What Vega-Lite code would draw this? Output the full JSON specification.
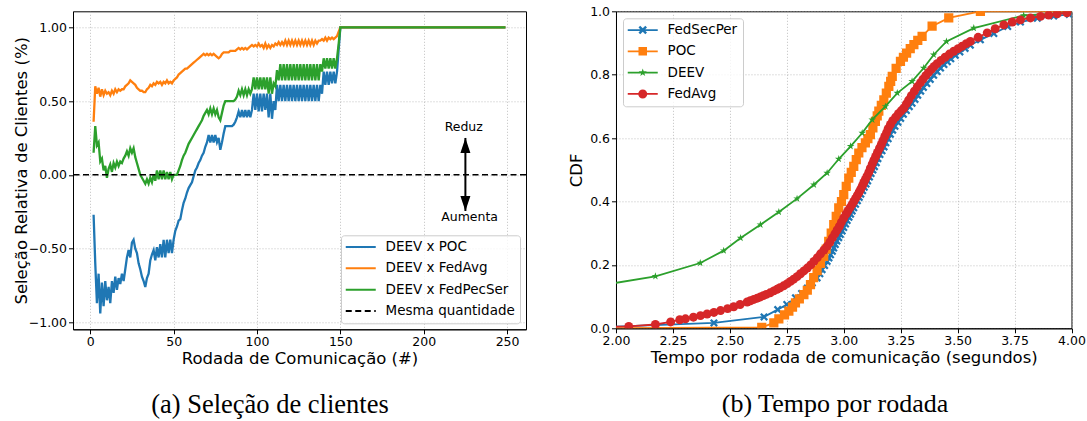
{
"$schema": "https://vega.github.io/schema/vega-lite/v6.json",
"background": "white",
"padding": {"left": 12, "top": 4.3, "right": 1, "bottom": 2},
"config": {
  "font": "DejaVu Sans",
  "view": {"stroke": "black", "strokeWidth": 1},
  "axis": {"labelFont": "DejaVu Sans", "labelFontSize": 12.5, "labelColor": "black", "titleFont": "DejaVu Sans", "titleFontSize": 16.5, "titleFontWeight": "normal", "titleColor": "black", "tickColor": "black", "tickSize": 4.5, "domainColor": "black", "gridColor": "#b0b0b0", "gridDash": [1, 2], "gridWidth": 0.8, "labelPadding": 2, "labelFlush": false, "labelOverlap": false},
  "axisX": {"titlePadding": 2.5},
  "concat": {"spacing": 40}
},
"datasets": {
  "sel": [
{"r":2,"POC":-0.27,"FedAvg":0.36,"FedPecSer":0.15},
{"r":3,"POC":-0.60,"FedAvg":0.60,"FedPecSer":0.33},
{"r":4,"POC":-0.87,"FedAvg":0.55,"FedPecSer":0.20},
{"r":5,"POC":-0.67,"FedAvg":0.59,"FedPecSer":0.22},
{"r":6,"POC":-0.94,"FedAvg":0.53,"FedPecSer":0.09},
{"r":7,"POC":-0.73,"FedAvg":0.58,"FedPecSer":0.11},
{"r":8,"POC":-0.89,"FedAvg":0.54,"FedPecSer":0.03},
{"r":9,"POC":-0.72,"FedAvg":0.57,"FedPecSer":0.06},
{"r":10,"POC":-0.85,"FedAvg":0.55,"FedPecSer":-0.02},
{"r":11,"POC":-0.76,"FedAvg":0.56,"FedPecSer":0.04},
{"r":12,"POC":-0.87,"FedAvg":0.54,"FedPecSer":0.07},
{"r":13,"POC":-0.72,"FedAvg":0.57,"FedPecSer":0.02},
{"r":14,"POC":-0.80,"FedAvg":0.55,"FedPecSer":0.08},
{"r":15,"POC":-0.69,"FedAvg":0.58,"FedPecSer":0.05},
{"r":16,"POC":-0.78,"FedAvg":0.56,"FedPecSer":0.09},
{"r":17,"POC":-0.70,"FedAvg":0.58,"FedPecSer":0.06},
{"r":18,"POC":-0.74,"FedAvg":0.57,"FedPecSer":0.09},
{"r":19,"POC":-0.67,"FedAvg":0.58,"FedPecSer":0.08},
{"r":20,"POC":-0.72,"FedAvg":0.58,"FedPecSer":0.11},
{"r":21,"POC":-0.64,"FedAvg":0.60,"FedPecSer":0.13},
{"r":22,"POC":-0.56,"FedAvg":0.61,"FedPecSer":0.16},
{"r":23,"POC":-0.51,"FedAvg":0.62,"FedPecSer":0.13},
{"r":24,"POC":-0.56,"FedAvg":0.64,"FedPecSer":0.18},
{"r":25,"POC":-0.46,"FedAvg":0.63,"FedPecSer":0.15},
{"r":26,"POC":-0.44,"FedAvg":0.62,"FedPecSer":0.18},
{"r":27,"POC":-0.50,"FedAvg":0.61,"FedPecSer":0.12},
{"r":28,"POC":-0.53,"FedAvg":0.59,"FedPecSer":0.08},
{"r":29,"POC":-0.60,"FedAvg":0.58,"FedPecSer":0.04},
{"r":30,"POC":-0.64,"FedAvg":0.57,"FedPecSer":0.00},
{"r":31,"POC":-0.69,"FedAvg":0.57,"FedPecSer":-0.02},
{"r":32,"POC":-0.72,"FedAvg":0.56,"FedPecSer":-0.04},
{"r":33,"POC":-0.76,"FedAvg":0.56,"FedPecSer":-0.06},
{"r":34,"POC":-0.70,"FedAvg":0.58,"FedPecSer":-0.03},
{"r":35,"POC":-0.67,"FedAvg":0.59,"FedPecSer":-0.06},
{"r":36,"POC":-0.58,"FedAvg":0.61,"FedPecSer":-0.02},
{"r":37,"POC":-0.54,"FedAvg":0.60,"FedPecSer":-0.05},
{"r":38,"POC":-0.51,"FedAvg":0.62,"FedPecSer":0.00},
{"r":39,"POC":-0.58,"FedAvg":0.61,"FedPecSer":-0.04},
{"r":40,"POC":-0.49,"FedAvg":0.63,"FedPecSer":0.03},
{"r":41,"POC":-0.56,"FedAvg":0.62,"FedPecSer":-0.03},
{"r":42,"POC":-0.47,"FedAvg":0.63,"FedPecSer":0.03},
{"r":43,"POC":-0.56,"FedAvg":0.61,"FedPecSer":-0.03},
{"r":44,"POC":-0.44,"FedAvg":0.63,"FedPecSer":0.03},
{"r":45,"POC":-0.56,"FedAvg":0.62,"FedPecSer":-0.03},
{"r":46,"POC":-0.44,"FedAvg":0.64,"FedPecSer":0.02},
{"r":47,"POC":-0.53,"FedAvg":0.62,"FedPecSer":-0.03},
{"r":48,"POC":-0.44,"FedAvg":0.63,"FedPecSer":0.02},
{"r":49,"POC":-0.53,"FedAvg":0.62,"FedPecSer":-0.03},
{"r":50,"POC":-0.44,"FedAvg":0.64,"FedPecSer":0.00},
{"r":51,"POC":-0.38,"FedAvg":0.65,"FedPecSer":0.00},
{"r":52,"POC":-0.35,"FedAvg":0.66,"FedPecSer":0.00},
{"r":53,"POC":-0.31,"FedAvg":0.68,"FedPecSer":0.03},
{"r":54,"POC":-0.30,"FedAvg":0.69,"FedPecSer":0.06},
{"r":55,"POC":-0.24,"FedAvg":0.70,"FedPecSer":0.10},
{"r":56,"POC":-0.19,"FedAvg":0.71,"FedPecSer":0.13},
{"r":57,"POC":-0.16,"FedAvg":0.72,"FedPecSer":0.15},
{"r":58,"POC":-0.12,"FedAvg":0.72,"FedPecSer":0.18},
{"r":59,"POC":-0.09,"FedAvg":0.73,"FedPecSer":0.21},
{"r":60,"POC":-0.07,"FedAvg":0.74,"FedPecSer":0.23},
{"r":61,"POC":-0.05,"FedAvg":0.75,"FedPecSer":0.25},
{"r":62,"POC":-0.01,"FedAvg":0.76,"FedPecSer":0.27},
{"r":63,"POC":0.03,"FedAvg":0.77,"FedPecSer":0.29},
{"r":64,"POC":0.05,"FedAvg":0.78,"FedPecSer":0.31},
{"r":65,"POC":0.08,"FedAvg":0.79,"FedPecSer":0.33},
{"r":66,"POC":0.10,"FedAvg":0.80,"FedPecSer":0.35},
{"r":67,"POC":0.13,"FedAvg":0.81,"FedPecSer":0.37},
{"r":68,"POC":0.15,"FedAvg":0.82,"FedPecSer":0.40},
{"r":69,"POC":0.19,"FedAvg":0.81,"FedPecSer":0.42},
{"r":70,"POC":0.22,"FedAvg":0.82,"FedPecSer":0.44},
{"r":71,"POC":0.27,"FedAvg":0.81,"FedPecSer":0.41},
{"r":72,"POC":0.22,"FedAvg":0.82,"FedPecSer":0.45},
{"r":73,"POC":0.27,"FedAvg":0.81,"FedPecSer":0.41},
{"r":74,"POC":0.22,"FedAvg":0.82,"FedPecSer":0.45},
{"r":75,"POC":0.27,"FedAvg":0.81,"FedPecSer":0.41},
{"r":76,"POC":0.22,"FedAvg":0.80,"FedPecSer":0.44},
{"r":77,"POC":0.25,"FedAvg":0.79,"FedPecSer":0.39},
{"r":78,"POC":0.17,"FedAvg":0.80,"FedPecSer":0.37},
{"r":79,"POC":0.22,"FedAvg":0.82,"FedPecSer":0.42},
{"r":80,"POC":0.28,"FedAvg":0.83,"FedPecSer":0.47},
{"r":81,"POC":0.33,"FedAvg":0.83,"FedPecSer":0.50},
{"r":82,"POC":0.33,"FedAvg":0.83,"FedPecSer":0.50},
{"r":83,"POC":0.33,"FedAvg":0.83,"FedPecSer":0.50},
{"r":84,"POC":0.33,"FedAvg":0.84,"FedPecSer":0.50},
{"r":85,"POC":0.33,"FedAvg":0.84,"FedPecSer":0.50},
{"r":86,"POC":0.34,"FedAvg":0.84,"FedPecSer":0.50},
{"r":87,"POC":0.36,"FedAvg":0.84,"FedPecSer":0.51},
{"r":88,"POC":0.39,"FedAvg":0.85,"FedPecSer":0.53},
{"r":89,"POC":0.43,"FedAvg":0.86,"FedPecSer":0.57},
{"r":90,"POC":0.39,"FedAvg":0.85,"FedPecSer":0.54},
{"r":91,"POC":0.44,"FedAvg":0.86,"FedPecSer":0.58},
{"r":92,"POC":0.39,"FedAvg":0.85,"FedPecSer":0.54},
{"r":93,"POC":0.44,"FedAvg":0.86,"FedPecSer":0.58},
{"r":94,"POC":0.39,"FedAvg":0.85,"FedPecSer":0.54},
{"r":95,"POC":0.44,"FedAvg":0.86,"FedPecSer":0.58},
{"r":96,"POC":0.39,"FedAvg":0.87,"FedPecSer":0.55},
{"r":97,"POC":0.44,"FedAvg":0.88,"FedPecSer":0.58},
{"r":98,"POC":0.55,"FedAvg":0.87,"FedPecSer":0.66},
{"r":99,"POC":0.44,"FedAvg":0.88,"FedPecSer":0.58},
{"r":100,"POC":0.55,"FedAvg":0.87,"FedPecSer":0.66},
{"r":101,"POC":0.43,"FedAvg":0.89,"FedPecSer":0.58},
{"r":102,"POC":0.55,"FedAvg":0.87,"FedPecSer":0.66},
{"r":103,"POC":0.43,"FedAvg":0.88,"FedPecSer":0.58},
{"r":104,"POC":0.55,"FedAvg":0.86,"FedPecSer":0.66},
{"r":105,"POC":0.44,"FedAvg":0.89,"FedPecSer":0.58},
{"r":106,"POC":0.55,"FedAvg":0.86,"FedPecSer":0.66},
{"r":107,"POC":0.39,"FedAvg":0.88,"FedPecSer":0.55},
{"r":108,"POC":0.55,"FedAvg":0.86,"FedPecSer":0.66},
{"r":109,"POC":0.38,"FedAvg":0.88,"FedPecSer":0.55},
{"r":110,"POC":0.50,"FedAvg":0.87,"FedPecSer":0.62},
{"r":111,"POC":0.44,"FedAvg":0.89,"FedPecSer":0.60},
{"r":112,"POC":0.61,"FedAvg":0.88,"FedPecSer":0.71},
{"r":113,"POC":0.50,"FedAvg":0.90,"FedPecSer":0.64},
{"r":114,"POC":0.61,"FedAvg":0.88,"FedPecSer":0.75},
{"r":115,"POC":0.50,"FedAvg":0.90,"FedPecSer":0.64},
{"r":116,"POC":0.61,"FedAvg":0.88,"FedPecSer":0.75},
{"r":117,"POC":0.50,"FedAvg":0.91,"FedPecSer":0.64},
{"r":118,"POC":0.61,"FedAvg":0.88,"FedPecSer":0.75},
{"r":119,"POC":0.50,"FedAvg":0.91,"FedPecSer":0.64},
{"r":120,"POC":0.61,"FedAvg":0.88,"FedPecSer":0.75},
{"r":121,"POC":0.50,"FedAvg":0.91,"FedPecSer":0.64},
{"r":122,"POC":0.61,"FedAvg":0.88,"FedPecSer":0.75},
{"r":123,"POC":0.50,"FedAvg":0.91,"FedPecSer":0.64},
{"r":124,"POC":0.61,"FedAvg":0.88,"FedPecSer":0.75},
{"r":125,"POC":0.50,"FedAvg":0.91,"FedPecSer":0.64},
{"r":126,"POC":0.61,"FedAvg":0.88,"FedPecSer":0.75},
{"r":127,"POC":0.50,"FedAvg":0.91,"FedPecSer":0.64},
{"r":128,"POC":0.61,"FedAvg":0.88,"FedPecSer":0.75},
{"r":129,"POC":0.50,"FedAvg":0.91,"FedPecSer":0.64},
{"r":130,"POC":0.61,"FedAvg":0.88,"FedPecSer":0.75},
{"r":131,"POC":0.50,"FedAvg":0.91,"FedPecSer":0.64},
{"r":132,"POC":0.61,"FedAvg":0.88,"FedPecSer":0.75},
{"r":133,"POC":0.50,"FedAvg":0.91,"FedPecSer":0.64},
{"r":134,"POC":0.61,"FedAvg":0.88,"FedPecSer":0.75},
{"r":135,"POC":0.50,"FedAvg":0.91,"FedPecSer":0.64},
{"r":136,"POC":0.61,"FedAvg":0.89,"FedPecSer":0.75},
{"r":137,"POC":0.50,"FedAvg":0.91,"FedPecSer":0.64},
{"r":138,"POC":0.61,"FedAvg":0.91,"FedPecSer":0.75},
{"r":139,"POC":0.55,"FedAvg":0.92,"FedPecSer":0.70},
{"r":140,"POC":0.70,"FedAvg":0.91,"FedPecSer":0.79},
{"r":141,"POC":0.61,"FedAvg":0.93,"FedPecSer":0.72},
{"r":142,"POC":0.70,"FedAvg":0.91,"FedPecSer":0.79},
{"r":143,"POC":0.61,"FedAvg":0.93,"FedPecSer":0.72},
{"r":144,"POC":0.70,"FedAvg":0.92,"FedPecSer":0.79},
{"r":145,"POC":0.62,"FedAvg":0.93,"FedPecSer":0.72},
{"r":146,"POC":0.70,"FedAvg":0.92,"FedPecSer":0.79},
{"r":147,"POC":0.62,"FedAvg":0.93,"FedPecSer":0.72},
{"r":148,"POC":0.70,"FedAvg":0.94,"FedPecSer":0.79},
{"r":149,"POC":0.85,"FedAvg":0.97,"FedPecSer":0.89},
{"r":150,"POC":1.0,"FedAvg":1.0,"FedPecSer":1.0},
{"r":249,"POC":1.0,"FedAvg":1.0,"FedPecSer":1.0}
  ],
  "cdf": [
{"s":"FedSecPer","t":1.88,"p":0.002},{"s":"FedSecPer","t":2.43,"p":0.017},{"s":"FedSecPer","t":2.65,"p":0.036},{"s":"FedSecPer","t":2.71,"p":0.059},{"s":"FedSecPer","t":2.75,"p":0.075},{"s":"FedSecPer","t":2.788,"p":0.096},{"s":"FedSecPer","t":2.815,"p":0.11},{"s":"FedSecPer","t":2.84,"p":0.127},{"s":"FedSecPer","t":2.862,"p":0.143},{"s":"FedSecPer","t":2.883,"p":0.159},{"s":"FedSecPer","t":2.895,"p":0.172},{"s":"FedSecPer","t":2.905,"p":0.185},{"s":"FedSecPer","t":2.916,"p":0.198},{"s":"FedSecPer","t":2.927,"p":0.211},{"s":"FedSecPer","t":2.935,"p":0.222},{"s":"FedSecPer","t":2.942,"p":0.232},{"s":"FedSecPer","t":2.95,"p":0.243},{"s":"FedSecPer","t":2.956,"p":0.253},{"s":"FedSecPer","t":2.963,"p":0.264},{"s":"FedSecPer","t":2.97,"p":0.275},{"s":"FedSecPer","t":2.978,"p":0.286},{"s":"FedSecPer","t":2.985,"p":0.296},{"s":"FedSecPer","t":2.993,"p":0.307},{"s":"FedSecPer","t":3.0,"p":0.318},{"s":"FedSecPer","t":3.008,"p":0.329},{"s":"FedSecPer","t":3.015,"p":0.34},{"s":"FedSecPer","t":3.023,"p":0.35},{"s":"FedSecPer","t":3.03,"p":0.36},{"s":"FedSecPer","t":3.037,"p":0.37},{"s":"FedSecPer","t":3.044,"p":0.38},{"s":"FedSecPer","t":3.052,"p":0.391},{"s":"FedSecPer","t":3.06,"p":0.402},{"s":"FedSecPer","t":3.068,"p":0.413},{"s":"FedSecPer","t":3.075,"p":0.423},{"s":"FedSecPer","t":3.083,"p":0.434},{"s":"FedSecPer","t":3.09,"p":0.445},{"s":"FedSecPer","t":3.098,"p":0.455},{"s":"FedSecPer","t":3.105,"p":0.465},{"s":"FedSecPer","t":3.113,"p":0.477},{"s":"FedSecPer","t":3.12,"p":0.488},{"s":"FedSecPer","t":3.128,"p":0.499},{"s":"FedSecPer","t":3.135,"p":0.51},{"s":"FedSecPer","t":3.143,"p":0.522},{"s":"FedSecPer","t":3.15,"p":0.535},{"s":"FedSecPer","t":3.159,"p":0.548},{"s":"FedSecPer","t":3.168,"p":0.56},{"s":"FedSecPer","t":3.177,"p":0.572},{"s":"FedSecPer","t":3.185,"p":0.585},{"s":"FedSecPer","t":3.195,"p":0.598},{"s":"FedSecPer","t":3.205,"p":0.612},{"s":"FedSecPer","t":3.215,"p":0.625},{"s":"FedSecPer","t":3.225,"p":0.637},{"s":"FedSecPer","t":3.238,"p":0.65},{"s":"FedSecPer","t":3.25,"p":0.662},{"s":"FedSecPer","t":3.262,"p":0.675},{"s":"FedSecPer","t":3.275,"p":0.687},{"s":"FedSecPer","t":3.288,"p":0.699},{"s":"FedSecPer","t":3.3,"p":0.71},{"s":"FedSecPer","t":3.313,"p":0.722},{"s":"FedSecPer","t":3.325,"p":0.735},{"s":"FedSecPer","t":3.338,"p":0.748},{"s":"FedSecPer","t":3.35,"p":0.76},{"s":"FedSecPer","t":3.365,"p":0.772},{"s":"FedSecPer","t":3.38,"p":0.785},{"s":"FedSecPer","t":3.395,"p":0.798},{"s":"FedSecPer","t":3.41,"p":0.81},{"s":"FedSecPer","t":3.425,"p":0.821},{"s":"FedSecPer","t":3.44,"p":0.832},{"s":"FedSecPer","t":3.455,"p":0.841},{"s":"FedSecPer","t":3.47,"p":0.85},{"s":"FedSecPer","t":3.49,"p":0.861},{"s":"FedSecPer","t":3.51,"p":0.872},{"s":"FedSecPer","t":3.533,"p":0.883},{"s":"FedSecPer","t":3.556,"p":0.893},{"s":"FedSecPer","t":3.6,"p":0.91},{"s":"FedSecPer","t":3.659,"p":0.93},{"s":"FedSecPer","t":3.72,"p":0.952},{"s":"FedSecPer","t":3.776,"p":0.966},{"s":"FedSecPer","t":3.85,"p":0.978},{"s":"FedSecPer","t":3.922,"p":0.985},{"s":"FedSecPer","t":3.99,"p":0.99},{"s":"FedSecPer","t":4.15,"p":1.0},
{"s":"POC","t":1.9,"p":0.0},{"s":"POC","t":2.64,"p":0.003},{"s":"POC","t":2.693,"p":0.017},{"s":"POC","t":2.715,"p":0.03},{"s":"POC","t":2.74,"p":0.042},{"s":"POC","t":2.759,"p":0.054},{"s":"POC","t":2.775,"p":0.067},{"s":"POC","t":2.788,"p":0.08},{"s":"POC","t":2.805,"p":0.093},{"s":"POC","t":2.825,"p":0.106},{"s":"POC","t":2.84,"p":0.12},{"s":"POC","t":2.854,"p":0.138},{"s":"POC","t":2.868,"p":0.16},{"s":"POC","t":2.883,"p":0.182},{"s":"POC","t":2.898,"p":0.205},{"s":"POC","t":2.912,"p":0.227},{"s":"POC","t":2.923,"p":0.25},{"s":"POC","t":2.934,"p":0.274},{"s":"POC","t":2.945,"p":0.3},{"s":"POC","t":2.956,"p":0.327},{"s":"POC","t":2.967,"p":0.353},{"s":"POC","t":2.978,"p":0.38},{"s":"POC","t":2.99,"p":0.4},{"s":"POC","t":3.0,"p":0.422},{"s":"POC","t":3.011,"p":0.448},{"s":"POC","t":3.022,"p":0.474},{"s":"POC","t":3.033,"p":0.492},{"s":"POC","t":3.044,"p":0.511},{"s":"POC","t":3.055,"p":0.532},{"s":"POC","t":3.066,"p":0.553},{"s":"POC","t":3.08,"p":0.57},{"s":"POC","t":3.095,"p":0.585},{"s":"POC","t":3.106,"p":0.598},{"s":"POC","t":3.117,"p":0.611},{"s":"POC","t":3.128,"p":0.632},{"s":"POC","t":3.139,"p":0.653},{"s":"POC","t":3.147,"p":0.67},{"s":"POC","t":3.154,"p":0.685},{"s":"POC","t":3.165,"p":0.703},{"s":"POC","t":3.176,"p":0.721},{"s":"POC","t":3.187,"p":0.742},{"s":"POC","t":3.198,"p":0.763},{"s":"POC","t":3.206,"p":0.779},{"s":"POC","t":3.213,"p":0.795},{"s":"POC","t":3.23,"p":0.82},{"s":"POC","t":3.249,"p":0.842},{"s":"POC","t":3.262,"p":0.855},{"s":"POC","t":3.276,"p":0.868},{"s":"POC","t":3.292,"p":0.882},{"s":"POC","t":3.308,"p":0.895},{"s":"POC","t":3.325,"p":0.908},{"s":"POC","t":3.344,"p":0.921},{"s":"POC","t":3.388,"p":0.953},{"s":"POC","t":3.461,"p":0.979},{"s":"POC","t":3.6,"p":1.0},{"s":"POC","t":4.2,"p":1.0},
{"s":"DEEV","t":1.92,"p":0.134},{"s":"DEEV","t":2.173,"p":0.164},{"s":"DEEV","t":2.37,"p":0.206},{"s":"DEEV","t":2.473,"p":0.245},{"s":"DEEV","t":2.547,"p":0.285},{"s":"DEEV","t":2.634,"p":0.327},{"s":"DEEV","t":2.715,"p":0.367},{"s":"DEEV","t":2.795,"p":0.409},{"s":"DEEV","t":2.869,"p":0.453},{"s":"DEEV","t":2.927,"p":0.49},{"s":"DEEV","t":2.978,"p":0.534},{"s":"DEEV","t":3.03,"p":0.574},{"s":"DEEV","t":3.081,"p":0.616},{"s":"DEEV","t":3.125,"p":0.658},{"s":"DEEV","t":3.183,"p":0.7},{"s":"DEEV","t":3.235,"p":0.742},{"s":"DEEV","t":3.3,"p":0.779},{"s":"DEEV","t":3.351,"p":0.821},{"s":"DEEV","t":3.395,"p":0.863},{"s":"DEEV","t":3.451,"p":0.905},{"s":"DEEV","t":3.571,"p":0.947},{"s":"DEEV","t":3.79,"p":0.987},{"s":"DEEV","t":4.1,"p":1.0},
{"s":"FedAvg","t":1.7,"p":0.002},{"s":"FedAvg","t":2.056,"p":0.006},{"s":"FedAvg","t":2.173,"p":0.012},{"s":"FedAvg","t":2.24,"p":0.02},{"s":"FedAvg","t":2.28,"p":0.027},{"s":"FedAvg","t":2.305,"p":0.03},{"s":"FedAvg","t":2.34,"p":0.035},{"s":"FedAvg","t":2.371,"p":0.04},{"s":"FedAvg","t":2.4,"p":0.045},{"s":"FedAvg","t":2.43,"p":0.05},{"s":"FedAvg","t":2.459,"p":0.056},{"s":"FedAvg","t":2.49,"p":0.062},{"s":"FedAvg","t":2.517,"p":0.068},{"s":"FedAvg","t":2.545,"p":0.075},{"s":"FedAvg","t":2.576,"p":0.083},{"s":"FedAvg","t":2.59,"p":0.087},{"s":"FedAvg","t":2.605,"p":0.091},{"s":"FedAvg","t":2.62,"p":0.095},{"s":"FedAvg","t":2.634,"p":0.099},{"s":"FedAvg","t":2.647,"p":0.103},{"s":"FedAvg","t":2.66,"p":0.107},{"s":"FedAvg","t":2.677,"p":0.112},{"s":"FedAvg","t":2.693,"p":0.118},{"s":"FedAvg","t":2.707,"p":0.123},{"s":"FedAvg","t":2.72,"p":0.128},{"s":"FedAvg","t":2.736,"p":0.134},{"s":"FedAvg","t":2.752,"p":0.141},{"s":"FedAvg","t":2.766,"p":0.148},{"s":"FedAvg","t":2.78,"p":0.155},{"s":"FedAvg","t":2.795,"p":0.163},{"s":"FedAvg","t":2.81,"p":0.172},{"s":"FedAvg","t":2.825,"p":0.181},{"s":"FedAvg","t":2.84,"p":0.19},{"s":"FedAvg","t":2.855,"p":0.2},{"s":"FedAvg","t":2.869,"p":0.211},{"s":"FedAvg","t":2.884,"p":0.223},{"s":"FedAvg","t":2.898,"p":0.235},{"s":"FedAvg","t":2.913,"p":0.247},{"s":"FedAvg","t":2.927,"p":0.259},{"s":"FedAvg","t":2.939,"p":0.272},{"s":"FedAvg","t":2.95,"p":0.285},{"s":"FedAvg","t":2.961,"p":0.298},{"s":"FedAvg","t":2.971,"p":0.31},{"s":"FedAvg","t":2.981,"p":0.322},{"s":"FedAvg","t":2.99,"p":0.335},{"s":"FedAvg","t":3.0,"p":0.348},{"s":"FedAvg","t":3.01,"p":0.36},{"s":"FedAvg","t":3.018,"p":0.37},{"s":"FedAvg","t":3.027,"p":0.38},{"s":"FedAvg","t":3.036,"p":0.39},{"s":"FedAvg","t":3.044,"p":0.4},{"s":"FedAvg","t":3.052,"p":0.41},{"s":"FedAvg","t":3.06,"p":0.42},{"s":"FedAvg","t":3.068,"p":0.43},{"s":"FedAvg","t":3.075,"p":0.44},{"s":"FedAvg","t":3.082,"p":0.45},{"s":"FedAvg","t":3.088,"p":0.46},{"s":"FedAvg","t":3.095,"p":0.47},{"s":"FedAvg","t":3.102,"p":0.48},{"s":"FedAvg","t":3.11,"p":0.492},{"s":"FedAvg","t":3.117,"p":0.505},{"s":"FedAvg","t":3.125,"p":0.518},{"s":"FedAvg","t":3.132,"p":0.53},{"s":"FedAvg","t":3.14,"p":0.542},{"s":"FedAvg","t":3.148,"p":0.555},{"s":"FedAvg","t":3.157,"p":0.568},{"s":"FedAvg","t":3.165,"p":0.58},{"s":"FedAvg","t":3.172,"p":0.592},{"s":"FedAvg","t":3.18,"p":0.605},{"s":"FedAvg","t":3.188,"p":0.617},{"s":"FedAvg","t":3.195,"p":0.63},{"s":"FedAvg","t":3.205,"p":0.643},{"s":"FedAvg","t":3.215,"p":0.655},{"s":"FedAvg","t":3.228,"p":0.666},{"s":"FedAvg","t":3.24,"p":0.677},{"s":"FedAvg","t":3.252,"p":0.686},{"s":"FedAvg","t":3.264,"p":0.695},{"s":"FedAvg","t":3.275,"p":0.708},{"s":"FedAvg","t":3.285,"p":0.72},{"s":"FedAvg","t":3.297,"p":0.734},{"s":"FedAvg","t":3.31,"p":0.748},{"s":"FedAvg","t":3.323,"p":0.762},{"s":"FedAvg","t":3.337,"p":0.775},{"s":"FedAvg","t":3.348,"p":0.786},{"s":"FedAvg","t":3.36,"p":0.797},{"s":"FedAvg","t":3.372,"p":0.807},{"s":"FedAvg","t":3.385,"p":0.817},{"s":"FedAvg","t":3.397,"p":0.826},{"s":"FedAvg","t":3.41,"p":0.835},{"s":"FedAvg","t":3.427,"p":0.845},{"s":"FedAvg","t":3.445,"p":0.855},{"s":"FedAvg","t":3.464,"p":0.865},{"s":"FedAvg","t":3.483,"p":0.874},{"s":"FedAvg","t":3.502,"p":0.882},{"s":"FedAvg","t":3.52,"p":0.89},{"s":"FedAvg","t":3.538,"p":0.898},{"s":"FedAvg","t":3.556,"p":0.905},{"s":"FedAvg","t":3.59,"p":0.918},{"s":"FedAvg","t":3.63,"p":0.932},{"s":"FedAvg","t":3.665,"p":0.945},{"s":"FedAvg","t":3.703,"p":0.957},{"s":"FedAvg","t":3.74,"p":0.966},{"s":"FedAvg","t":3.776,"p":0.973},{"s":"FedAvg","t":3.82,"p":0.979},{"s":"FedAvg","t":3.864,"p":0.984},{"s":"FedAvg","t":3.9,"p":0.988},{"s":"FedAvg","t":3.937,"p":0.992},{"s":"FedAvg","t":3.98,"p":0.995},{"s":"FedAvg","t":4.05,"p":1.0}
  ]
},
"resolve": {"scale": {"color": "independent", "shape": "independent", "x": "independent", "y": "independent"}, "legend": {"color": "independent", "shape": "independent"}},
"hconcat": [
{
  "width": 453, "height": 318,
  "title": {"text": "(a) Seleção de clientes", "orient": "bottom", "anchor": "middle", "frame": "bounds", "offset": 24.5, "dx": 0, "font": "Liberation Serif", "fontSize": 26.5, "fontWeight": "normal", "color": "black"},
  "layer": [
    {
      "data": {"name": "sel"},
      "transform": [{"fold": ["POC", "FedAvg", "FedPecSer"], "as": ["s", "v"]}],
      "mark": {"type": "line", "strokeWidth": 2.3, "clip": true},
      "encoding": {
        "x": {"field": "r", "type": "quantitative", "scale": {"domain": [-10.35, 261.35], "nice": false, "zero": false}, "axis": {"values": [0, 50, 100, 150, 200, 250], "title": "Rodada de Comunicação (#)", "grid": true}},
        "y": {"field": "v", "type": "quantitative", "scale": {"domain": [-1.047, 1.1085], "nice": false, "zero": false}, "axis": {"values": [-1, -0.75, -0.5, -0.25, 0, 0.25, 0.5, 0.75, 1], "format": ".2f", "title": "Seleção Relativa de Clientes (%)", "grid": true, "titlePadding": -1}},
        "color": {"field": "s", "type": "nominal",
          "scale": {"domain": ["POC", "FedAvg", "FedPecSer", "Mesma quantidade"], "range": ["#1f77b4", "#ff7f0e", "#2ca02c", "#000000"]},
          "legend": {"orient": "bottom-right", "offset": 6, "title": null,
            "labelExpr": "datum.label == 'Mesma quantidade' ? datum.label : 'DEEV x ' + datum.label",
            "labelFont": "DejaVu Sans", "labelFontSize": 13.5, "labelColor": "black",
            "symbolSize": 100, "symbolOffset": 8, "labelOffset": 18, "padding": 5, "rowPadding": 6.3,
            "fillColor": "rgba(255,255,255,0.8)", "strokeColor": "#cccccc", "cornerRadius": 3,
            "encode": {"symbols": {"update": {
              "shape": {"value": "M-3,0L3,0"},
              "fill": {"value": "transparent"},
              "stroke": {"signal": "datum.value == 'POC' ? '#1f77b4' : datum.value == 'FedAvg' ? '#ff7f0e' : datum.value == 'FedPecSer' ? '#2ca02c' : '#000000'"},
              "strokeWidth": {"value": 2},
              "opacity": {"value": 1},
              "strokeDash": {"signal": "datum.value == 'Mesma quantidade' ? [6, 3.5] : [1, 0]"}}}}}}
      }
    },
    {
      "data": {"values": [{"s": "Mesma quantidade", "v": 0}]},
      "mark": {"type": "rule", "strokeWidth": 1.5, "strokeDash": [6, 3.5]},
      "encoding": {
        "y": {"field": "v", "type": "quantitative"},
        "color": {"field": "s", "type": "nominal"}
      }
    },
    {
      "data": {"values": [{"r": 225, "a": 0.25, "b": -0.245}]},
      "mark": {"type": "rule", "strokeWidth": 2, "color": "black"},
      "encoding": {
        "x": {"field": "r", "type": "quantitative"},
        "y": {"field": "a", "type": "quantitative"},
        "y2": {"field": "b"}
      }
    },
    {
      "data": {"values": [{"r": 225, "v": 0.25, "d": "up"}, {"r": 225, "v": -0.245, "d": "down"}]},
      "mark": {"type": "point", "filled": true, "size": 100, "color": "black", "opacity": 1},
      "encoding": {
        "x": {"field": "r", "type": "quantitative"},
        "y": {"field": "v", "type": "quantitative"},
        "shape": {"field": "d", "type": "nominal", "scale": {"domain": ["up", "down"], "range": ["M0,0L1,3L-1,3Z", "M0,0L1,-3L-1,-3Z"]}, "legend": null}
      }
    },
    {
      "data": {"values": [{"r": 224, "v": 0.327, "t": "Reduz"}, {"r": 227.5, "v": -0.289, "t": "Aumenta"}]},
      "mark": {"type": "text", "font": "DejaVu Sans", "fontSize": 12.5, "color": "black", "align": "center", "baseline": "middle"},
      "encoding": {
        "x": {"field": "r", "type": "quantitative"},
        "y": {"field": "v", "type": "quantitative"},
        "text": {"field": "t"}
      }
    }
  ]
},
{
  "width": 455.5, "height": 317,
  "title": {"text": "(b) Tempo por rodada", "orient": "bottom", "anchor": "middle", "frame": "bounds", "offset": 24.5, "dx": 8, "font": "Liberation Serif", "fontSize": 26, "fontWeight": "normal", "color": "black"},
  "data": {"name": "cdf"},
  "encoding": {
    "x": {"field": "t", "type": "quantitative", "scale": {"domain": [2, 4], "nice": false, "zero": false}, "axis": {"values": [2, 2.25, 2.5, 2.75, 3, 3.25, 3.5, 3.75, 4], "format": ".2f", "title": "Tempo por rodada de comunicação (segundos)", "grid": true}},
    "y": {"field": "p", "type": "quantitative", "scale": {"domain": [0, 1], "nice": false}, "axis": {"values": [0, 0.2, 0.4, 0.6, 0.8, 1], "format": ".1f", "title": "CDF", "grid": true, "titlePadding": 5}},
    "color": {"field": "s", "type": "nominal",
      "scale": {"domain": ["FedSecPer", "POC", "DEEV", "FedAvg"], "range": ["#1f77b4", "#ff7f0e", "#2ca02c", "#d62728"]},
      "legend": {"orient": "top-left", "offset": 7, "title": null,
        "labelFont": "DejaVu Sans", "labelFontSize": 13.5, "labelColor": "black",
        "symbolSize": 100, "symbolOffset": 8, "labelOffset": 18, "padding": 5, "rowPadding": 6.3,
        "fillColor": "rgba(255,255,255,0.8)", "strokeColor": "#cccccc", "cornerRadius": 3,
        "encode": {"symbols": {"update": {
          "shape": {"signal": "datum.value == 'FedSecPer' ? 'M-3,-0.18L3,-0.18L3,0.18L-3,0.18Z M-0.85,-0.51L-0.51,-0.85L0,-0.34L0.51,-0.85L0.85,-0.51L0.34,0L0.85,0.51L0.51,0.85L0,0.34L-0.51,0.85L-0.85,0.51L-0.34,0Z' : datum.value == 'POC' ? 'M-3,-0.18L3,-0.18L3,0.18L-3,0.18Z M-0.85,-0.85L0.85,-0.85L0.85,0.85L-0.85,0.85Z' : datum.value == 'DEEV' ? 'M-3,-0.18L3,-0.18L3,0.18L-3,0.18Z M0,-0.85L0.191,-0.263L0.808,-0.263L0.309,0.1L0.5,0.688L0,0.325L-0.5,0.688L-0.309,0.1L-0.808,-0.263L-0.191,-0.263Z' : 'M-3,-0.18L3,-0.18L3,0.18L-3,0.18Z M0.9,0A0.9,0.9,0,1,1,-0.9,0A0.9,0.9,0,1,1,0.9,0Z'"},
          "fill": {"signal": "datum.value == 'FedSecPer' ? '#1f77b4' : datum.value == 'POC' ? '#ff7f0e' : datum.value == 'DEEV' ? '#2ca02c' : '#d62728'"},
          "stroke": {"value": "transparent"},
          "strokeWidth": {"value": 0},
          "opacity": {"value": 1},
          "fillOpacity": {"value": 1}
        }}}}}
  },
  "layer": [
    {"transform": [{"filter": "datum.s == 'FedSecPer'"}], "mark": {"type": "line", "strokeWidth": 1.8, "clip": true}},
    {"transform": [{"filter": "datum.s == 'FedSecPer'"}], "mark": {"type": "point", "filled": true, "opacity": 1, "clip": true, "size": 64, "shape": "M-1,-0.6L-0.6,-1L0,-0.4L0.6,-1L1,-0.6L0.4,0L1,0.6L0.6,1L0,0.4L-0.6,1L-1,0.6L-0.4,0Z"}},
    {"transform": [{"filter": "datum.s == 'POC'"}], "mark": {"type": "line", "strokeWidth": 1.8, "clip": true}},
    {"transform": [{"filter": "datum.s == 'POC'"}], "mark": {"type": "point", "filled": true, "opacity": 1, "clip": true, "size": 85, "shape": "square"}},
    {"transform": [{"filter": "datum.s == 'DEEV'"}], "mark": {"type": "line", "strokeWidth": 1.8, "clip": true}},
    {"transform": [{"filter": "datum.s == 'DEEV'"}], "mark": {"type": "point", "filled": true, "opacity": 1, "clip": true, "size": 64, "shape": "M0,-1L0.2245,-0.309L0.951,-0.309L0.363,0.118L0.588,0.809L0,0.382L-0.588,0.809L-0.363,0.118L-0.951,-0.309L-0.2245,-0.309Z"}},
    {"transform": [{"filter": "datum.s == 'FedAvg'"}], "mark": {"type": "line", "strokeWidth": 1.8, "clip": true}},
    {"transform": [{"filter": "datum.s == 'FedAvg'"}], "mark": {"type": "point", "filled": true, "opacity": 1, "clip": true, "size": 80, "shape": "circle"}}
  ]
}
]
}
